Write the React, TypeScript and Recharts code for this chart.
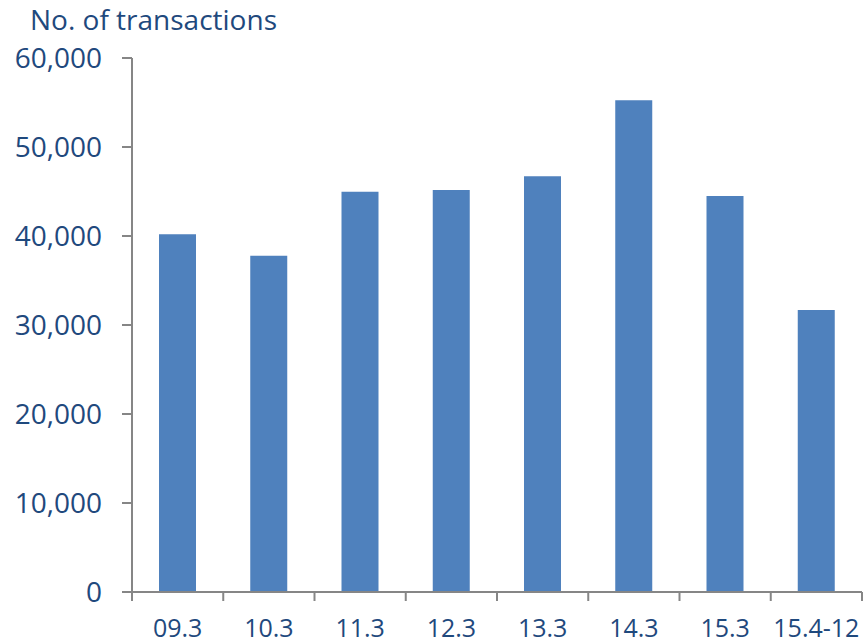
import { BarChart, Bar, XAxis, YAxis } from "recharts";

const periods = ["09.3", "10.3", "11.3", "12.3", "13.3", "14.3", "15.3", "15.4-12"];
const transactions = [40190, 37790, 44980, 45170, 46710, 55250, 44490, 31690];
const yTicks = [0, 10000, 20000, 30000, 40000, 50000, 60000];

const data = periods.map((period, i) => ({ period, value: transactions[i] }));

const W = 865;
const H = 644;
const margin = { top: 58, right: 3, bottom: 0, left: 0 };
const yAxisWidth = 132;
const xAxisHeight = 52;
const band = (W - margin.left - margin.right - yAxisWidth) / periods.length;

const TEXT = "#1F497D";
const AXIS = "#868686";
const FONT = "'Open Sans', sans-serif";

const CategoryTick = (props: any) => {
  const { x, y, payload, index } = props;
  const left = x - band / 2;
  const right = x + band / 2;
  return (
    <g>
      <line x1={left} y1={y} x2={left} y2={y + 9} stroke={AXIS} strokeWidth={2} />
      {index === periods.length - 1 && (
        <line x1={right} y1={y} x2={right} y2={y + 9} stroke={AXIS} strokeWidth={2} />
      )}
      <text x={x} y={y + 45} textAnchor="middle" fill={TEXT} fontSize={25} fontFamily={FONT}>
        {payload.value}
      </text>
    </g>
  );
};

export default function App() {
  return (
    <div style={{ position: "absolute", left: 0, top: 0, width: W, height: H, background: "#fff" }}>
      <div
        style={{
          position: "absolute",
          left: 30,
          top: 0,
          fontFamily: FONT,
          fontSize: 28,
          color: TEXT,
          whiteSpace: "nowrap",
        }}
      >
        No. of transactions
      </div>
      <BarChart width={W} height={H} data={data} margin={margin} barSize={37}>
        <XAxis
          dataKey="period"
          height={xAxisHeight}
          axisLine={{ stroke: AXIS, strokeWidth: 2 }}
          tickLine={false}
          tickSize={0}
          tickMargin={0}
          interval={0}
          tick={<CategoryTick />}
        />
        <YAxis
          width={yAxisWidth}
          domain={[0, 60000]}
          ticks={yTicks}
          interval={0}
          axisLine={{ stroke: AXIS, strokeWidth: 2 }}
          tickLine={{ stroke: AXIS, strokeWidth: 2 }}
          tickSize={10}
          tickMargin={20}
          tickFormatter={(v: number) => v.toLocaleString("en-US")}
          tick={{ fill: TEXT, fontSize: 28, fontFamily: FONT }}
        />
        <Bar dataKey="value" fill="#4F81BD" isAnimationActive={false} />
      </BarChart>
    </div>
  );
}
